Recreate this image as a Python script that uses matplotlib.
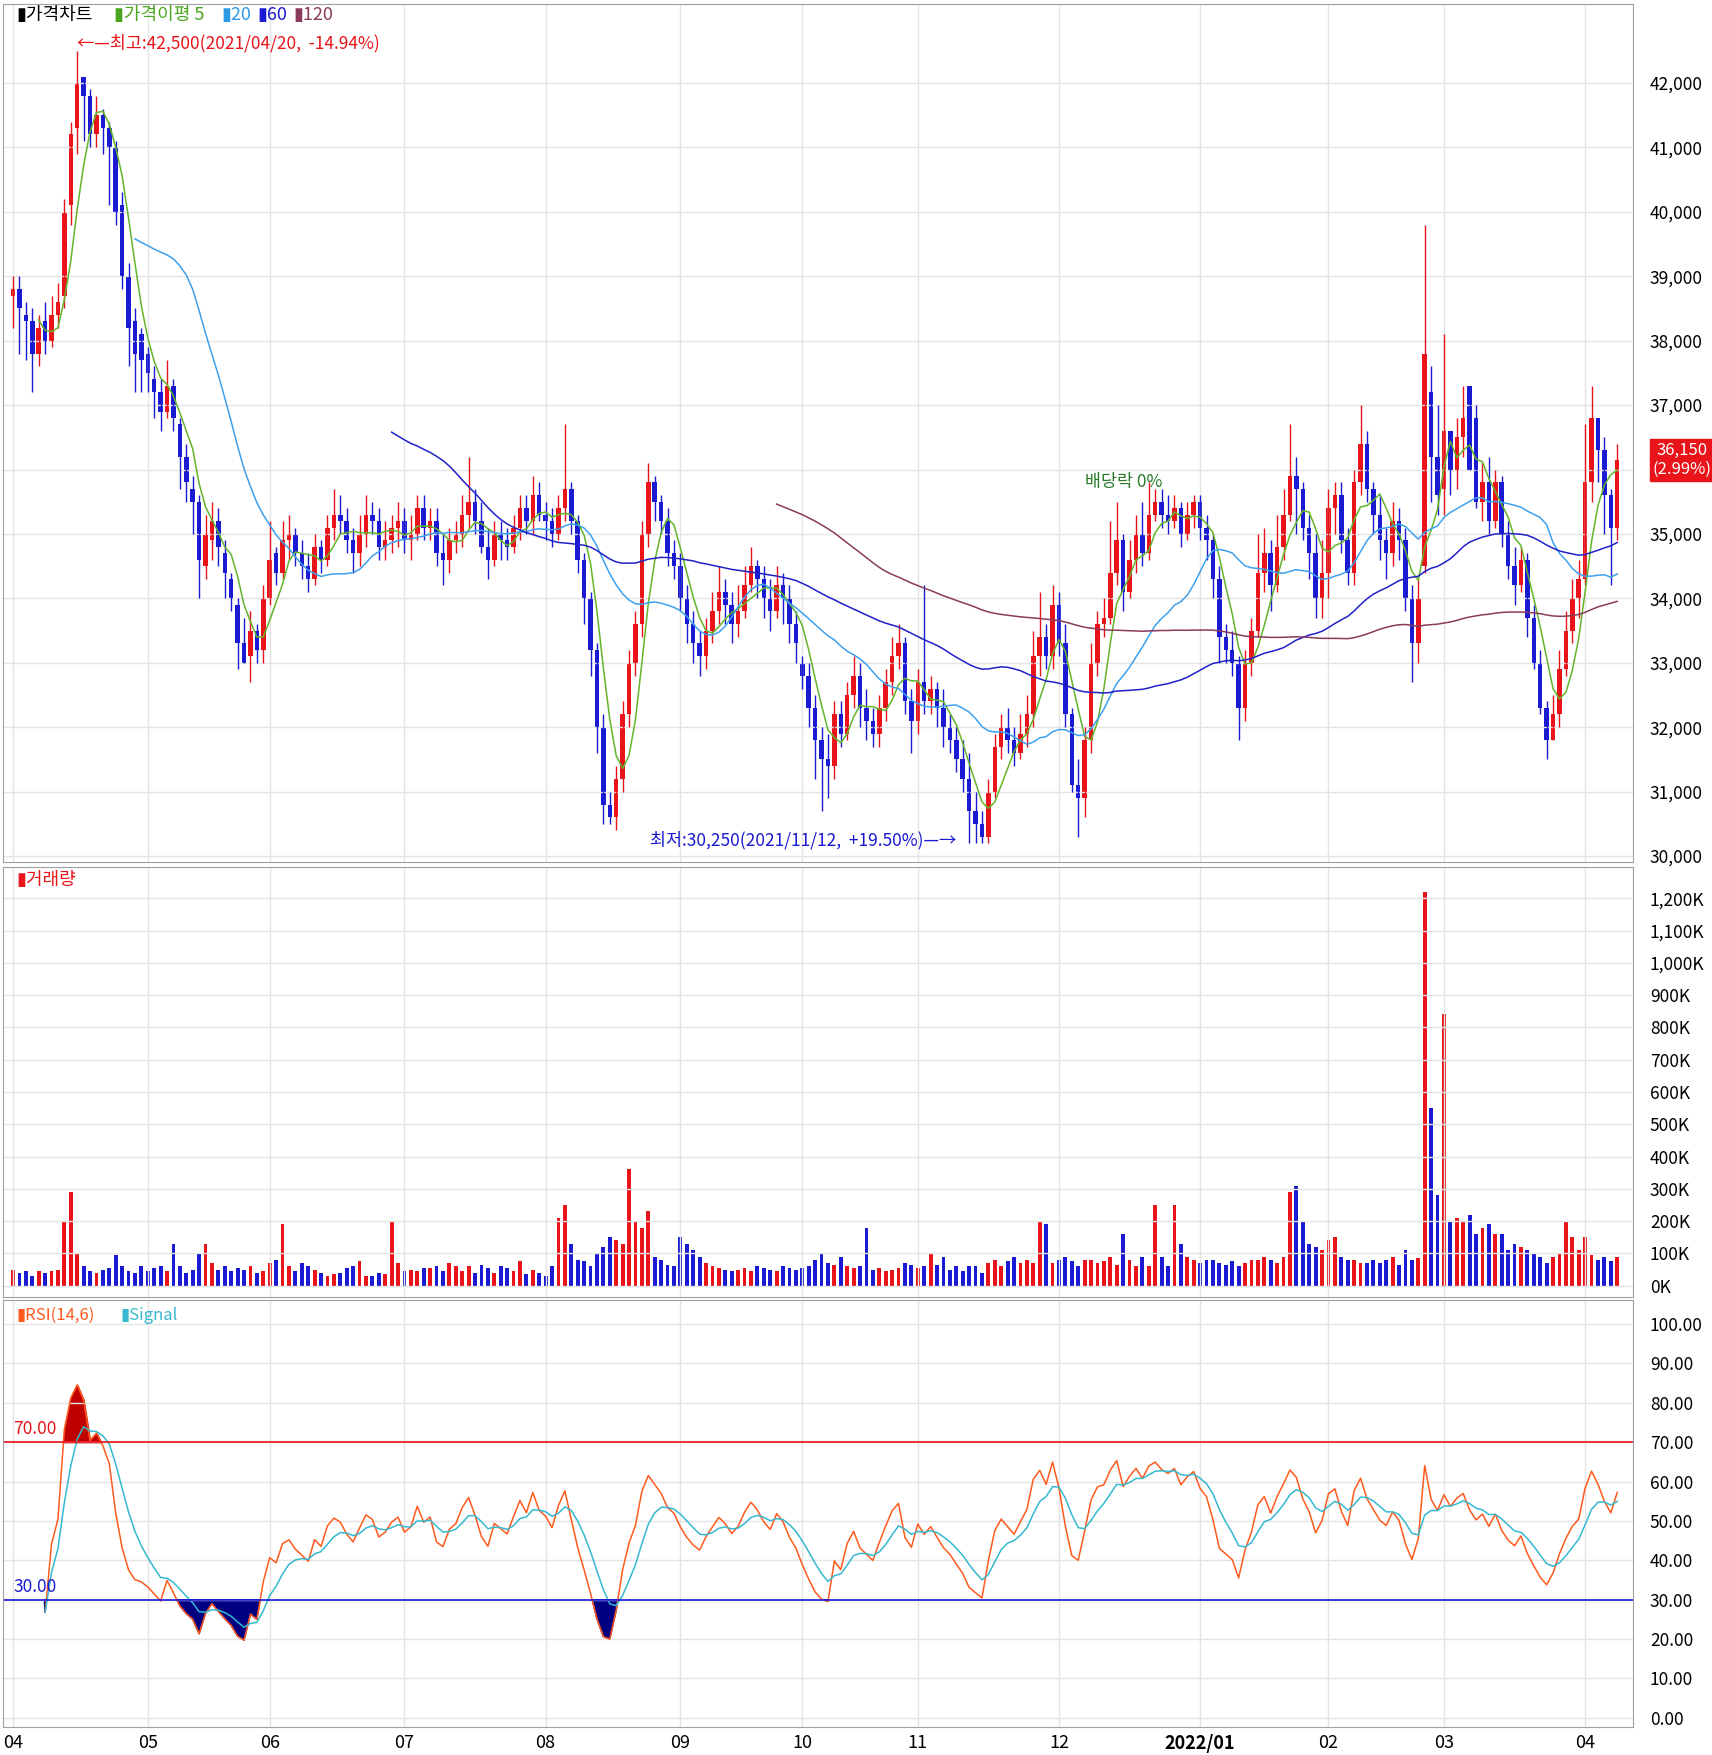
import numpy as np
import pandas as pd
import matplotlib
matplotlib.use("Agg")
import matplotlib.pyplot as plt
from matplotlib.patches import Rectangle

plt.rcParams['font.family'] = ['Noto Sans CJK KR', 'DejaVu Sans']

# prices in hundreds of won
month_labels = ["04","05","06","07","08","09","10","11","12","2022/01","02","03","04"]
month_days = [21,19,21,22,21,19,18,22,22,20,18,22,6]
close_h = [388,385,383,378,382,380,384,386,400,412,420,418,412,415,413,410,400,390,382,378,377,
 375,372,369,373,368,362,358,355,346,350,352,348,344,340,333,330,335,332,340,
 346,344,349,350,347,345,343,348,346,351,353,352,349,347,350,353,352,348,349,351,352,
 349,350,354,351,352,347,346,349,350,353,355,352,348,346,350,349,348,351,354,352,356,353,
 352,350,354,357,352,346,340,332,320,308,306,312,322,330,336,350,358,355,352,347,345,
 340,336,333,331,335,338,341,339,336,338,342,345,343,340,338,342,340,336,333,
 328,323,318,315,314,322,319,325,328,323,321,319,323,327,331,333,324,321,
 327,324,326,323,320,318,315,312,307,305,303,310,317,320,318,316,319,322,331,334,331,339,
 333,322,311,309,318,330,336,337,344,349,341,346,350,347,353,355,353,352,354,350,353,355,
 351,349,343,334,332,330,323,330,335,344,347,342,348,353,359,357,351,347,340,344,
 354,356,349,344,358,364,357,353,349,347,352,349,340,333,340,378,362,356,
 366,360,365,368,360,355,358,352,358,350,345,342,346,337,330,323,318,322,329,335,340,343,
 358,368,363,356,351,361.5]
open_h = [387,388,384,383,378,383,380,384,387,401,413,421,418,412,415,413,410,401,390,383,381,
 378,374,372,369,373,367,362,357,355,345,349,352,347,343,339,333,331,335,332,
 340,347,344,349,350,347,345,343,348,346,351,353,352,349,347,350,353,352,348,349,351,
 352,349,350,354,351,352,347,346,349,350,353,355,352,348,346,350,349,348,351,354,352,356,
 353,352,350,354,357,352,346,340,332,320,308,306,312,322,330,336,350,358,355,352,347,
 345,340,336,333,331,335,338,341,339,336,338,342,345,343,340,338,342,340,336,
 330,328,323,318,315,314,322,319,325,328,323,321,319,323,327,331,333,324,
 321,327,324,326,323,320,318,315,312,307,305,303,310,317,320,318,316,319,322,331,334,331,
 339,333,322,311,309,318,330,336,337,344,349,341,346,350,347,353,355,353,352,354,350,353,
 355,351,349,343,334,332,330,323,330,335,344,347,342,348,353,359,357,351,347,340,
 344,354,356,349,344,358,364,357,353,349,347,352,349,340,333,345,372,362,
 357,366,360,365,373,368,355,358,352,358,350,345,342,346,337,330,323,318,322,329,335,340,
 343,358,368,363,356,351]
high_h = [390,390,386,385,384,386,387,389,402,414,425,421,419,418,416,414,411,403,392,385,382,
 379,376,374,377,374,368,364,359,356,353,355,354,349,344,340,337,338,336,342,
 352,348,352,353,351,349,347,350,349,353,357,356,354,351,353,356,355,354,352,353,355,
 354,353,356,356,354,354,350,351,352,356,362,357,355,351,352,352,351,353,356,356,359,358,
 355,354,356,367,358,353,347,341,333,322,310,314,324,332,338,352,361,359,356,354,349,
 347,342,338,335,337,341,345,343,341,342,345,348,346,345,343,345,344,342,338,
 331,330,325,320,319,324,324,327,331,330,326,323,325,329,334,336,334,326,
 329,342,328,327,326,322,320,318,316,310,307,312,319,322,323,320,322,325,335,341,336,342,
 341,336,323,315,320,333,338,340,352,355,350,349,353,355,358,357,357,356,356,355,355,356,
 356,353,350,345,336,335,331,332,337,350,351,349,353,357,367,362,358,353,350,349,
 357,358,358,351,360,370,366,358,356,351,355,354,351,342,343,398,376,370,
 381,364,368,373,373,370,361,362,360,359,352,348,348,347,339,332,324,325,332,338,343,346,
 367,373,368,365,357,364]
low_h = [382,378,377,372,376,378,379,382,385,398,409,411,410,410,409,401,398,388,376,372,372,
 372,368,366,368,366,357,355,350,340,343,346,345,340,338,329,330,327,330,330,
 339,342,343,346,345,343,341,342,344,345,349,350,347,344,345,348,350,346,346,347,348,
 347,346,349,349,349,345,342,344,347,348,351,350,347,343,345,346,346,347,349,350,350,352,
 349,348,349,352,350,344,336,328,316,305,305,304,310,320,328,334,348,352,350,345,343,
 338,333,330,328,329,333,336,336,333,334,337,341,340,337,335,337,336,333,330,
 326,320,312,307,309,312,317,318,323,320,318,317,317,321,325,329,322,316,
 319,322,322,320,317,316,313,310,302,302,302,302,309,315,316,314,315,317,320,328,329,329,
 331,320,310,303,306,316,328,334,336,342,338,340,344,345,346,352,351,350,351,348,349,351,
 349,346,340,330,330,328,318,321,328,334,341,338,341,346,352,350,349,343,337,337,
 340,350,347,342,342,356,355,350,346,343,345,346,338,327,330,344,355,353,
 353,356,357,362,360,354,352,350,351,348,343,339,341,334,329,322,315,318,320,328,333,337,
 342,355,358,350,342,349]
volume_k = [50,40,45,30,45,40,45,50,200,290,100,60,45,40,50,55,95,60,45,40,60,
 45,55,60,45,130,60,40,50,100,130,70,50,60,45,55,50,60,40,45,
 70,80,190,60,45,70,60,50,40,30,35,40,55,60,75,30,30,40,35,200,70,
 45,50,45,55,55,60,45,70,60,45,60,40,65,55,40,60,55,45,75,35,50,40,
 30,60,210,250,130,80,75,60,100,120,150,140,130,360,200,180,230,90,80,65,60,
 150,130,110,90,70,60,55,50,45,50,55,45,60,55,50,45,60,55,50,
 55,60,80,100,70,65,90,60,55,60,180,50,55,45,50,55,70,65,
 55,60,100,65,90,50,60,45,60,60,40,70,80,60,75,90,70,80,70,200,190,70,
 80,90,75,60,80,80,70,75,90,65,160,80,60,90,60,250,90,60,250,130,90,80,
 70,80,80,70,65,75,60,70,80,80,90,80,70,90,290,310,200,130,120,110,
 140,150,90,80,80,70,70,80,70,80,90,65,110,80,85,1220,550,280,
 840,200,210,200,220,160,180,190,160,160,110,130,120,110,100,90,70,90,100,200,150,110,
 150,95,80,90,75,90]

C = np.array(close_h)*100; O = np.array(open_h)*100
H = np.array(high_h)*100; L = np.array(low_h)*100
V = np.array(volume_k)*1000
n = len(C); x = np.arange(n)
up = C >= O
RED = '#e8141a'; BLUE = '#1a1ad2'

fig = plt.figure(figsize=(17.12, 17.55), dpi=100)
l, w = 0.002, 0.952
ax1 = fig.add_axes([l, 0.509, w, 0.489])
ax2 = fig.add_axes([l, 0.261, w, 0.245])
ax3 = fig.add_axes([l, 0.016, w, 0.243])

starts = np.cumsum([0]+month_days[:-1])
for ax in (ax1, ax2, ax3):
    ax.set_xlim(-1.5, n + 1.5)
    ax.set_xticks(starts)
    ax.tick_params(axis='x', length=0, labelbottom=False)
    ax.yaxis.tick_right()
    ax.tick_params(axis='y', length=0, labelsize=12.5, pad=12)
    ax.grid(True, color='#e4e4e4', lw=1)
    for s_ in ax.spines.values():
        s_.set_color('#a0a0a0')

for i in range(n):
    c = RED if up[i] else BLUE
    ax1.vlines(x[i], L[i], H[i], color=c, lw=1)
    b0 = min(O[i], C[i]); bh = max(abs(C[i]-O[i]), 25)
    ax1.add_patch(Rectangle((x[i]-0.35, b0), 0.7, bh, color=c, lw=0))
s = pd.Series(C)
for p, col in [(5,'#63b42a'),(20,'#3da0ee'),(60,'#2020c8'),(120,'#8a3a5c')]:
    ax1.plot(x, s.rolling(p).mean(), color=col, lw=1.1)
ax1.set_ylim(29913, 43233)
yt = np.arange(30000, 42001, 1000)
ax1.set_yticks(yt); ax1.set_yticklabels(["" if v == 36000 else f"{v:,}" for v in yt])
ax1.text(0.008, 0.997, "▮가격차트", transform=ax1.transAxes, va='top', fontsize=13)
ax1.text(0.068, 0.997, "▮가격이평 5", color='#4aa51e', transform=ax1.transAxes, va='top', fontsize=13)
ax1.text(0.134, 0.997, "▮20", color='#2d9ae8', transform=ax1.transAxes, va='top', fontsize=13)
ax1.text(0.156, 0.997, "▮60", color='#1a1ad2', transform=ax1.transAxes, va='top', fontsize=13)
ax1.text(0.178, 0.997, "▮120", color='#8a3a5c', transform=ax1.transAxes, va='top', fontsize=13)
ax1.text(10, 42480, "←—최고:42,500(2021/04/20,  -14.94%)", color=RED, fontsize=12.5, va='bottom')
ax1.text(147, 30100, "최저:30,250(2021/11/12,  +19.50%)—→", color='#1a1ad2', fontsize=12.5, va='bottom', ha='right')
ax1.text(167, 35800, "배당락 0%", color='#2a7a2a', fontsize=12.5, va='center')
ax1.text(1.03, 36150, "36,150\n(2.99%)", transform=ax1.get_yaxis_transform(), ha='center', va='center',
         color='white', fontsize=12, bbox=dict(fc=RED, ec=RED, pad=2), clip_on=False)

ax2.bar(x, V, width=0.6, color=[RED if u else BLUE for u in up])
ax2.set_ylim(-35000, 1297000)
vt = np.arange(0, 1200001, 100000)
ax2.set_yticks(vt); ax2.set_yticklabels([f"{v//1000:,}K" for v in vt])
ax2.text(0.008, 0.99, "▮거래량", color=RED, transform=ax2.transAxes, va='top', fontsize=13)

d = s.diff()
g = d.clip(lower=0).ewm(alpha=1/14, min_periods=5, adjust=True).mean()
ls = (-d.clip(upper=0)).ewm(alpha=1/14, min_periods=5, adjust=True).mean()
rsi = (100 - 100/(1+g/ls)).values
sig = pd.Series(rsi).ewm(span=6, adjust=True, ignore_na=True).mean().values
r0 = np.nan_to_num(rsi, nan=50)
ax3.fill_between(x, r0, 70, where=r0 > 70, color='#c00000', interpolate=True)
ax3.fill_between(x, r0, 30, where=r0 < 30, color='#000080', interpolate=True)
ax3.plot(x, rsi, color='#ff5a1e', lw=1.1)
ax3.plot(x, sig, color='#35b8d0', lw=1.1)
ax3.axhline(70, color=RED, lw=1.2); ax3.axhline(30, color='#1a1ad2', lw=1.2)
ax3.text(0, 71, "70.00", color=RED, fontsize=12.5, va='bottom')
ax3.text(0, 31, "30.00", color='#1a1ad2', fontsize=12.5, va='bottom')
ax3.set_ylim(-2.3, 106)
rt = np.arange(0, 101, 10)
ax3.set_yticks(rt); ax3.set_yticklabels([f"{v:.2f}" for v in rt])
ax3.text(0.008, 0.985, "▮RSI(14,6)", color='#ff5a1e', transform=ax3.transAxes, va='top', fontsize=12)
ax3.text(0.072, 0.985, "▮Signal", color='#35b8d0', transform=ax3.transAxes, va='top', fontsize=12)
for st, lab in zip(starts, month_labels):
    ax3.text(st, -4, lab, ha='center', va='top', fontsize=13,
             fontweight='bold' if '/' in lab else 'normal', clip_on=False)

fig.savefig("out.png", dpi=100, facecolor='white')
